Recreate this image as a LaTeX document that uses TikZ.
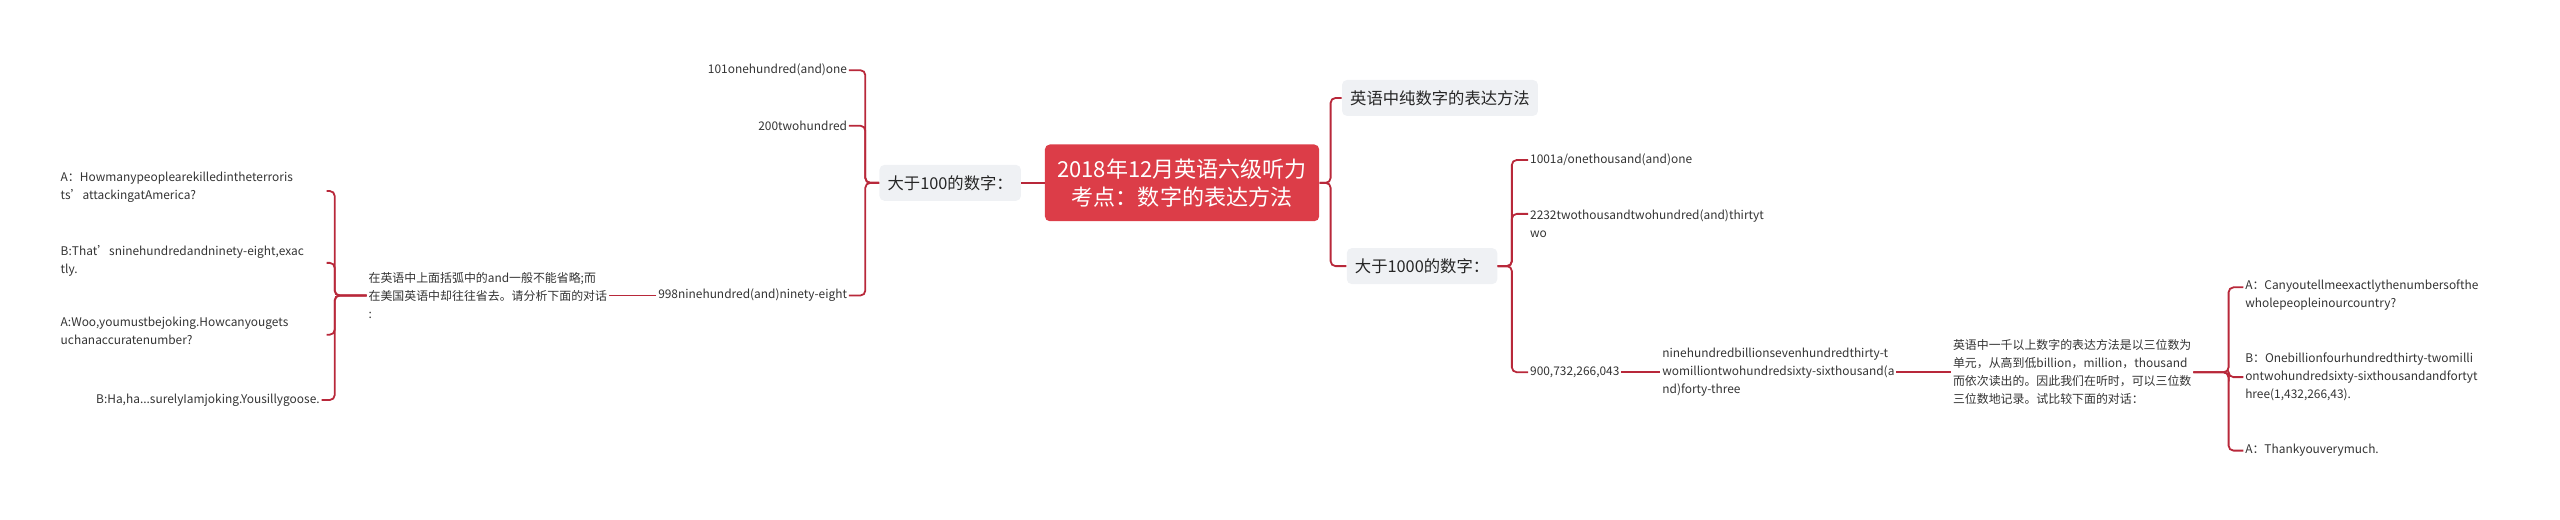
\documentclass[tikz,border=0pt]{standalone}
\usepackage{fontspec}
\setmainfont{Noto Sans CJK SC}
\definecolor{lc}{HTML}{B8283A}
\definecolor{rootc}{HTML}{DC3D48}
\definecolor{boxc}{HTML}{EFF1F4}
\begin{document}
\begin{tikzpicture}[x=1pt,y=-1pt,
 conn/.style={draw=lc,line width=1.1pt,rounded corners=3pt},
 leafl/.style={anchor=east,font=\fontsize{7.3}{11}\selectfont,align=left,inner sep=1pt,text=black!80},
 leafr/.style={anchor=west,font=\fontsize{7.3}{11}\selectfont,align=left,inner sep=1pt,text=black!80},
 sub/.style={fill=boxc,rounded corners=3pt,font=\fontsize{10}{12}\selectfont,inner xsep=5pt,minimum height=22pt,text=black!85}]
\useasboundingbox (0,0) rectangle (1568,318);
\node[fill=rootc,rounded corners=3pt,text=white,align=center,font=\fontsize{13.5}{17}\selectfont,minimum width=168pt,minimum height=47pt] (root) at (724,112) {2018年12月英语六级听力\\考点：数字的表达方法};
\node[sub] (b100) at (582,112) {大于100的数字：};
\node[sub] (pure) at (882,60) {英语中纯数字的表达方法};
\node[sub] (b1000) at (871,163) {大于1000的数字：};
% left side
\node[leafl] (c101) at (520,43) {101onehundred(and)one};
\node[leafl] (c200) at (520,77) {200twohundred};
\node[leafl] (c998) at (520,181) {998ninehundred(and)ninety-eight};
\node[leafl] (note) at (373,181) {在英语中上面括弧中的and一般不能省略;而\\在美国英语中却往往省去。请分析下面的对话\\:};
\node[leafl,anchor=north west] (d1) at (36,104) {A：Howmanypeoplearekilledintheterroris\\ts'attackingatAmerica?};
\node[leafl,anchor=north west] (d2) at (36,149) {B:That'sninehundredandninety-eight,exac\\tly.};
\node[leafl,anchor=north west] (d3) at (36,193) {A:Woo,youmustbejoking.Howcanyougets\\uchanaccuratenumber?};
\node[leafl] (d4) at (197,245) {B:Ha,ha...surelyIamjoking.Yousillygoose.};
% right side
\node[leafr] (c1001) at (936,98) {1001a/onethousand(and)one};
\node[leafr] (c2232) at (936,137) {2232twothousandtwohundred(and)thirtyt\\wo};
\node[leafr] (c900) at (936,228) {900,732,266,043};
\node[leafr] (nine) at (1017,228) {ninehundredbillionsevenhundredthirty-t\\womilliontwohundredsixty-sixthousand(a\\nd)forty-three};
\node[leafr] (thou) at (1195,228) {英语中一千以上数字的表达方法是以三位数为\\单元，从高到低billion，million，thousand\\而依次读出的。因此我们在听时，可以三位数\\三位数地记录。试比较下面的对话：};
\node[leafr] (e1) at (1374,181) {A：Canyoutellmeexactlythenumbersofthe\\wholepeopleinourcountry?};
\node[leafr] (e2) at (1374,231) {B：Onebillionfourhundredthirty-twomilli\\ontwohundredsixty-sixthousandandfortyt\\hree(1,432,266,43).};
\node[leafr] (e3) at (1374,276) {A：Thankyouverymuch.};
% connectors
\draw[conn] (root.west) -- (b100.east);
\coordinate (j1) at (530,0);
\foreach \c in {c101,c200,c998} \draw[conn] (b100.west) -- (j1 |- b100.west) -- (j1 |- \c.east) -- (\c.east);
\draw[conn] (c998.west) -- (note.east);
\coordinate (j2) at (205,0);
\draw[conn] (note.west) -- (j2 |- note.west) -- (j2 |- 0,117) -- (200,117);
\draw[conn] (note.west) -- (j2 |- note.west) -- (j2 |- 0,161) -- (200,161);
\draw[conn] (note.west) -- (j2 |- note.west) -- (j2 |- 0,205) -- (200,205);
\draw[conn] (note.west) -- (j2 |- note.west) -- (j2 |- d4.east) -- (d4.east);
\coordinate (j3) at (815,0);
\foreach \c in {pure,b1000} \draw[conn] (root.east) -- (j3 |- root.east) -- (j3 |- \c.west) -- (\c.west);
\coordinate (j4) at (926,0);
\draw[conn] (b1000.east) -- (j4 |- b1000.east) -- (j4 |- c1001.west) -- (c1001.west);
\draw[conn] (b1000.east) -- (j4 |- b1000.east) -- (j4 |- 0,131) -- (936,131);
\draw[conn] (b1000.east) -- (j4 |- b1000.east) -- (j4 |- c900.west) -- (c900.west);
\draw[conn] (c900.east) -- (nine.west);
\draw[conn] (nine.east) -- (thou.west);
\coordinate (j5) at (1365,0);
\draw[conn] (thou.east) -- (j5 |- thou.east) -- (j5 |- 0,176) -- (1374,176);
\draw[conn] (thou.east) -- (j5 |- thou.east) -- (j5 |- e2.west) -- (e2.west);
\draw[conn] (thou.east) -- (j5 |- thou.east) -- (j5 |- e3.west) -- (e3.west);
\end{tikzpicture}
\end{document}
